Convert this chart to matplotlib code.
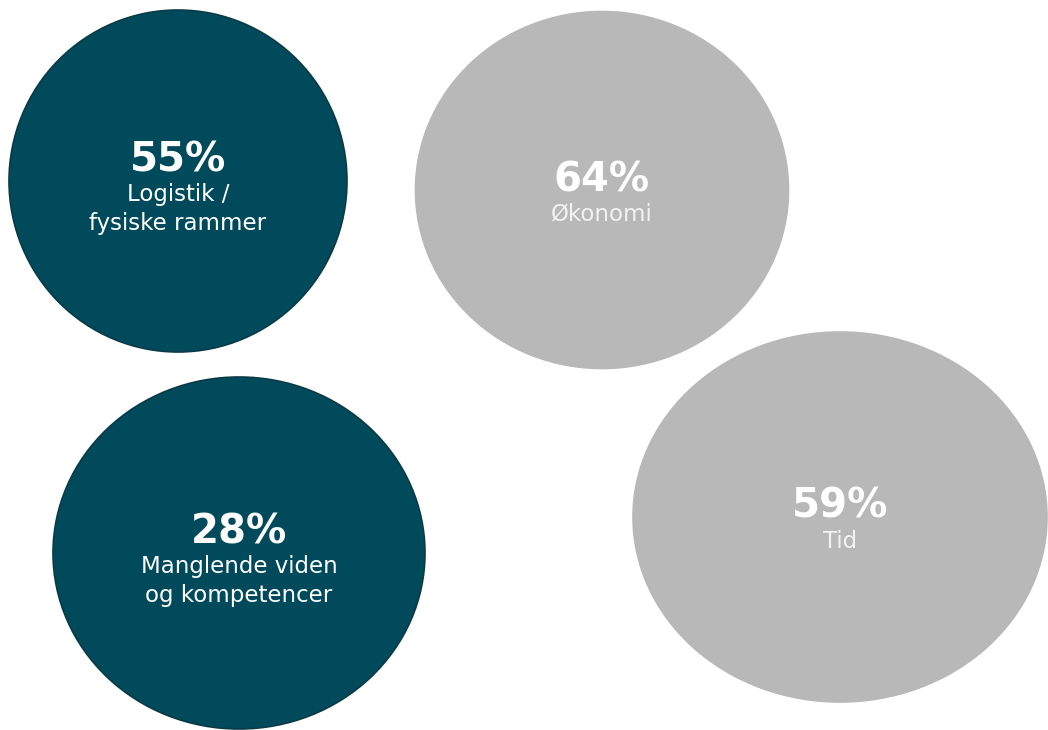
import matplotlib.pyplot as plt
from matplotlib.patches import Ellipse

# data
labels = ["Logistik /\nfysiske rammer", "Økonomi",
          "Manglende viden\nog kompetencer", "Tid"]
values = [55, 64, 28, 59]
highlight = [True, False, True, False]

# layout in pixel coords (x, y, width, height)
bubbles = [(178, 181, 338, 342), (602, 190, 373, 357),
           (239, 553, 372, 352), (840, 517, 414, 370)]

dark = "#004a5c"
grey = "#b8b8b8"

fig = plt.figure(figsize=(10.48, 7.30), dpi=100)
ax = fig.add_axes([0, 0, 1, 1])
ax.set_xlim(0, 1048)
ax.set_ylim(730, 0)
ax.set_aspect("equal")
ax.axis("off")

for lab, val, hi, (x, y, w, h) in zip(labels, values, highlight, bubbles):
    fc = dark if hi else grey
    ec = "#0b3a47" if hi else grey
    ax.add_patch(Ellipse((x, y), w, h, facecolor=fc, edgecolor=ec, lw=1.2))
    lines = lab.split("\n")
    top = y - 24 if len(lines) == 2 else y - 13
    ax.text(x, top + 3, f"{val}%", ha="center", va="center", color="white",
            fontsize=29, fontweight="bold")
    lc = "white" if hi else "#f2f2f2"
    for i, ln in enumerate(lines):
        ax.text(x, top + 35 + 29 * i, ln, ha="center", va="center_baseline",
                color=lc, fontsize=16.5)

fig.savefig("out.png", dpi=100, facecolor="white")
